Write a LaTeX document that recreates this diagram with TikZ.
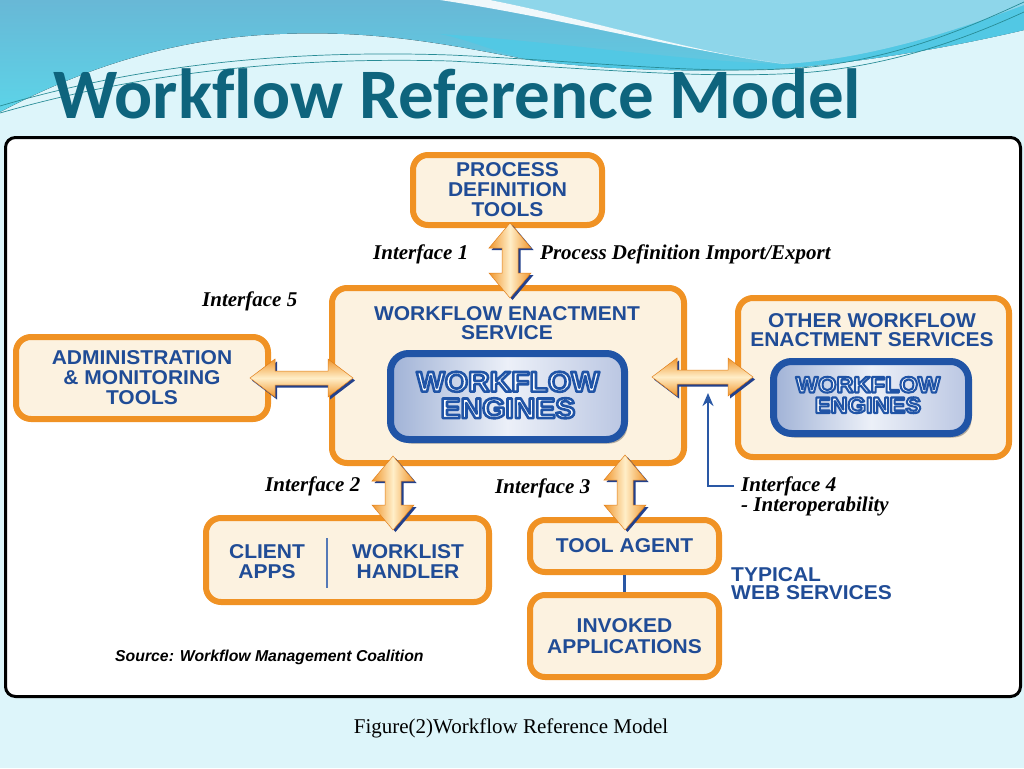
\documentclass[tikz,border=0pt]{standalone}
\usepackage{fontspec}
\usetikzlibrary{calc,arrows.meta,shadows}
\newfontfamily\boxfont[FakeStretch=1.05]{Liberation Sans}
\newfontfamily\arialf{Liberation Sans}
\newfontfamily\tnr{Liberation Serif}
\newfontfamily\titlef[Ligatures=NoCommon]{Carlito}
\newcommand\bfont{\boxfont\bfseries\fontsize{20}{20}\selectfont}
\newcommand\lfont{\tnr\bfseries\itshape\fontsize{21}{21}\selectfont}
\newcommand\efont{\boxfont\bfseries\fontsize{28.5}{26.5}\selectfont}
\newcommand\esfont{\boxfont\bfseries\fontsize{22.5}{20.5}\selectfont}

\definecolor{bgc}{RGB}{221,245,250}
\definecolor{wblue1}{RGB}{104,184,214}
\definecolor{wblue2}{RGB}{92,212,232}
\definecolor{wcyan}{RGB}{82,200,228}
\definecolor{wlight}{RGB}{142,214,234}
\definecolor{wline}{RGB}{40,140,150}
\definecolor{titlec}{RGB}{14,100,125}
\definecolor{boxor}{RGB}{240,146,36}
\definecolor{boxfill}{RGB}{252,242,224}
\definecolor{txtblue}{RGB}{32,76,150}
\definecolor{engblue}{RGB}{32,84,166}
\definecolor{engL}{RGB}{160,178,214}
\definecolor{engM}{RGB}{236,240,248}
\definecolor{engR}{RGB}{186,198,226}
\definecolor{aor}{RGB}{240,150,45}
\definecolor{aord}{RGB}{225,128,28}
\definecolor{acr}{RGB}{255,238,200}
\definecolor{arrsh}{RGB}{35,65,140}
\definecolor{lnblue}{RGB}{42,88,165}

% outlined text (fill white, stroke blue): #1 position, #2 name, #3 font, #4 stroke width, #5 text
\newcommand\olt[5]{%
  \node[text=white,font=#3,align=center,inner sep=0pt] (#2) at (#1)
   {\special{pdf:literal direct 2 Tr #4 w 1 j 0.125 0.33 0.65 RG}#5\special{pdf:literal direct 0 Tr}};}

% vertical double arrow: #1 top tip, #2 bottom tip
\newcommand\vdbl[2]{%
  \fill[arrsh] ($(#1)+(2.5,2)$) -- ($(#1)+(23.5,27)$) -- ($(#1)+(10.5,27)$) -- ($(#2)+(10.5,-23)$) -- ($(#2)+(23.5,-23)$) -- ($(#2)+(2.5,2)$) -- ($(#2)+(-18.5,-23)$) -- ($(#2)+(-5.5,-23)$) -- ($(#1)+(-5.5,27)$) -- ($(#1)+(-18.5,27)$) -- cycle;
  \shadedraw[draw=aord,line width=0.5pt,left color=aor,right color=aor,middle color=acr] (#1) -- ($(#1)+(21,25)$) -- ($(#1)+(8,25)$) -- ($(#2)+(8,-25)$) -- ($(#2)+(21,-25)$) -- (#2) -- ($(#2)+(-21,-25)$) -- ($(#2)+(-8,-25)$) -- ($(#1)+(-8,25)$) -- ($(#1)+(-21,25)$) -- cycle;}

% horizontal double arrow: #1 left tip, #2 right tip
\newcommand\hdbl[2]{%
  \fill[arrsh] ($(#1)+(2,2.5)$) -- ($(#1)+(27,-16.5)$) -- ($(#1)+(27,-4.5)$) -- ($(#2)+(-23,-4.5)$) -- ($(#2)+(-23,-16.5)$) -- ($(#2)+(2,2.5)$) -- ($(#2)+(-23,21.5)$) -- ($(#2)+(-23,9.5)$) -- ($(#1)+(27,9.5)$) -- ($(#1)+(27,21.5)$) -- cycle;
  \shadedraw[draw=aord,line width=0.5pt,top color=aor,bottom color=aor,middle color=acr] (#1) -- ($(#1)+(25,-19)$) -- ($(#1)+(25,-7)$) -- ($(#2)+(-25,-7)$) -- ($(#2)+(-25,-19)$) -- (#2) -- ($(#2)+(-25,19)$) -- ($(#2)+(-25,7)$) -- ($(#1)+(25,7)$) -- ($(#1)+(25,19)$) -- cycle;}

\begin{document}
\begin{tikzpicture}[x=1pt,y=-1pt,
  obox/.style={draw=boxor,line width=6pt,fill=boxfill,rounded corners=15pt,inner sep=0pt,align=center,text=txtblue,font=\bfont},
  ebox/.style={draw=engblue,line width=7pt,rounded corners=18pt,left color=engL,right color=engR,middle color=engM,inner sep=0pt,
     drop shadow={shadow xshift=3pt,shadow yshift=-4pt,opacity=0.3,fill=black}},
  btxt/.style={text=txtblue,font=\bfont,align=center,inner sep=0pt},
  lab/.style={font=\lfont,inner sep=0pt,anchor=base west,text=black},
  wthin/.style={draw=wline,line width=0.7pt},
  i4line/.style={draw=lnblue,line width=2.5pt,-{Stealth[length=13pt,width=11pt]}},
  linkline/.style={draw=lnblue,line width=3pt},
  divline/.style={draw=lnblue!80,line width=1.5pt}
]
\useasboundingbox (0,0) rectangle (1024,768);
% background
\fill[bgc] (0,0) rectangle (1024,768);
\fill[top color=wblue1,bottom color=wblue2] (0,0) -- (1024,0) -- (1024,30) .. controls (960,45) and (880,60) .. (790,68) .. controls (720,72) and (620,72) .. (530,60) .. controls (450,45) and (380,30) .. (280,34) .. controls (170,38) and (80,70) .. (0,112) -- cycle;
\fill[wcyan] (440,34) .. controls (560,42) and (690,62) .. (785,64) .. controls (880,58) and (970,25) .. (1024,5) -- (1024,30) .. controls (960,45) and (880,60) .. (790,68) .. controls (720,72) and (620,72) .. (530,60) .. controls (495,52) and (470,40) .. (440,34) -- cycle;
\fill[wlight] (490,0) -- (1024,0) -- (1024,5) .. controls (970,25) and (880,58) .. (785,64) .. controls (700,55) and (600,22) .. (490,0) -- cycle;
\fill[white,opacity=0.9] (440,0) .. controls (560,18) and (680,50) .. (785,64) .. controls (690,52) and (600,22) .. (490,0) -- cycle;
\draw[wthin] (0,106) .. controls (150,62) and (300,50) .. (450,55) .. controls (600,62) and (700,75) .. (800,68) .. controls (900,60) and (980,22) .. (1024,2);
\draw[wthin] (0,113) .. controls (150,70) and (300,57) .. (450,61) .. controls (600,69) and (700,79) .. (800,73) .. controls (900,66) and (980,32) .. (1024,12);

% title
\node[anchor=base west,inner sep=0pt,text=titlec,font={\titlef\bfseries\fontsize{71}{71}\selectfont}] (title) at (53,118) {Workflow Reference Model};

% frame
\node[draw=black,line width=3pt,fill=white,rounded corners=10pt,minimum width=1015pt,minimum height=559pt,inner sep=0pt] (frame) at (513,417) {};

% boxes
\node[obox,minimum width=189pt,minimum height=70pt] (pdt) at (507.5,190) {PROCESS\\DEFINITION\\TOOLS};
\node[obox,minimum width=352pt,minimum height=175pt] (wes) at (508,375.5) {};
\node[btxt,font={\boxfont\bfseries\fontsize{20}{19}\selectfont}] (wesl) at (507,323.5) {WORKFLOW ENACTMENT\\SERVICE};
\node[ebox,minimum width=234pt,minimum height=86pt] (eng) at (507.5,396.5) {};
\olt{508,395}{engt}{\efont}{2.6}{WORKFLOW\\ENGINES}

\node[obox,minimum width=252pt,minimum height=82pt] (admin) at (142,378) {ADMINISTRATION\\\& MONITORING\\TOOLS};

\node[obox,minimum width=271pt,minimum height=159pt] (other) at (873.5,377.5) {};
\node[btxt,font={\boxfont\bfseries\fontsize{20}{19}\selectfont}] (otherl) at (872,330.5) {OTHER WORKFLOW\\ENACTMENT SERVICES};
\node[ebox,minimum width=195pt,minimum height=72pt] (eng2) at (871,397.5) {};
\olt{868,395}{eng2t}{\esfont}{2.1}{WORKFLOW\\ENGINES}

\node[obox,minimum width=283pt,minimum height=84pt] (client) at (347.5,560) {};
\node[btxt] (cl1) at (267,562) {CLIENT\\APPS};
\node[btxt] (cl2) at (408,562) {WORKLIST\\HANDLER};
\coordinate (dv1) at (327,538);
\coordinate (dv2) at (327,588);
\draw[divline] (dv1) -- (dv2);

\node[obox,minimum width=189pt,minimum height=52pt] (tool) at (624.5,546) {TOOL AGENT};
\node[obox,minimum width=189pt,minimum height=82pt,font={\boxfont\bfseries\fontsize{20}{21.5}\selectfont}] (inv) at (624.5,636) {INVOKED\\APPLICATIONS};
\draw[linkline] (tool.south) -- (inv.north);

\node[btxt,align=left,anchor=west,font={\boxfont\bfseries\fontsize{20}{18}\selectfont}] (typ) at (731,584) {TYPICAL\\WEB SERVICES};

% double arrows
\coordinate (i1t) at (510,223);
\coordinate (i1b) at (510,298);
\vdbl{i1t}{i1b}
\coordinate (i5l) at (250,378);
\coordinate (i5r) at (353,378);
\hdbl{i5l}{i5r}
\coordinate (i4l) at (652,377);
\coordinate (i4r) at (753,377);
\hdbl{i4l}{i4r}
\coordinate (i2t) at (393,456);
\coordinate (i2b) at (393,530);
\vdbl{i2t}{i2b}
\coordinate (i3t) at (625,455);
\coordinate (i3b) at (625,530);
\vdbl{i3t}{i3b}

% interface 4 pointer
\coordinate (i4s) at (734,486);
\coordinate (i4tip) at (708,393);
\draw[i4line] (i4s) -| (i4tip);

% labels
\node[lab] (l1) at (373,259) {Interface 1};
\node[lab] (lpd) at (540,259) {Process Definition Import/Export};
\node[lab] (l5) at (202,306) {Interface 5};
\node[lab] (l2) at (265,491) {Interface 2};
\node[lab] (l3) at (495,493) {Interface 3};
\node[lab] (l4a) at (741,491) {Interface 4};
\node[lab] (l4b) at (741,511) {- Interoperability};

\node[anchor=base west,inner sep=0pt,font={\arialf\bfseries\itshape\fontsize{15.8}{16}\selectfont}] (src) at (115,661) {Source: Workflow Management Coalition};

\node[anchor=base,inner sep=0pt,font={\tnr\fontsize{21}{21}\selectfont}] (cap) at (511,733) {Figure(2)Workflow Reference Model};
\end{tikzpicture}
\end{document}
